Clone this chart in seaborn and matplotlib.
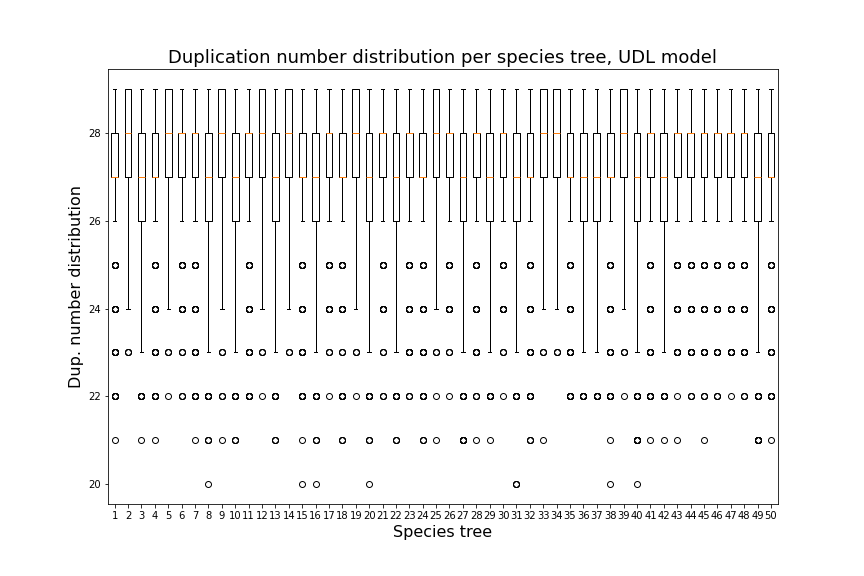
import pandas as pd
import matplotlib
matplotlib.use("Agg")
import matplotlib.pyplot as plt
import seaborn as sns
import numpy as np

FIG_SIZE = (12, 8)

## DATA
trees = list(range(1, 51))

# box shape per tree:
# A: Q1 27, median 27, Q3 28 | B: Q1 27, median 28, Q3 29
# C: Q1 26, median 27, Q3 28 | D: Q1 27, median 28, Q3 28
shapes = list("ABCABDDCBCDBCBACDABCDCDABDCDCDCABBACCABCDCDDDDDDCA")

# value counts making up the box / whiskers of each shape
shape_counts = {
    "A": {26: 20, 27: 160, 28: 100, 29: 40},
    "B": {24: 4, 25: 6, 26: 16, 27: 80, 28: 100, 29: 100},
    "C": {23: 10, 24: 16, 25: 20, 26: 60, 27: 80, 28: 80, 29: 30},
    "D": {26: 20, 27: 100, 28: 160, 29: 40},
}

# outliers per tree (1 = single thin ring, 3-6 = overlapping darker rings)
out25 = [6, 0, 0, 6, 0, 6, 6, 0, 0, 0, 6, 0, 0, 0, 6, 0, 6, 6, 0, 0, 6, 0, 6, 6, 0,
         6, 0, 6, 0, 6, 0, 6, 0, 0, 6, 0, 0, 6, 0, 0, 6, 0, 6, 6, 6, 6, 6, 6, 0, 6]
out24 = list(out25)
out23 = [6, 3, 0, 6, 3, 3, 6, 0, 3, 0, 6, 3, 0, 3, 6, 0, 3, 3, 3, 0, 3, 0, 6, 6, 3,
         3, 0, 6, 0, 3, 0, 6, 3, 3, 6, 0, 0, 6, 3, 0, 6, 0, 6, 6, 6, 6, 6, 6, 0, 6]
out22 = [6, 0, 6, 6, 1, 3, 6, 6, 3, 6, 6, 1, 6, 0, 6, 6, 1, 6, 1, 6, 3, 6, 3, 6, 1,
         1, 6, 3, 6, 1, 6, 6, 0, 0, 6, 6, 6, 6, 1, 6, 6, 6, 1, 3, 3, 3, 1, 3, 6, 6]
out21 = [1, 0, 1, 1, 0, 0, 1, 3, 1, 3, 0, 0, 3, 0, 1, 3, 0, 3, 0, 3, 0, 3, 0, 3, 1,
         0, 6, 1, 1, 0, 0, 3, 1, 0, 0, 0, 0, 1, 0, 6, 1, 1, 1, 0, 1, 0, 0, 0, 6, 1]
out20 = [0, 0, 0, 0, 0, 0, 0, 1, 0, 0, 0, 0, 0, 0, 1, 1, 0, 0, 0, 1, 0, 0, 0, 0, 0,
         0, 0, 0, 0, 0, 3, 0, 0, 0, 0, 0, 0, 1, 0, 1, 0, 0, 0, 0, 0, 0, 0, 0, 0, 0]

outliers = {25: out25, 24: out24, 23: out23, 22: out22, 21: out21, 20: out20}

## BUILD LONG TABLE
rows = []
for i, tree in enumerate(trees):
    counts = dict(shape_counts[shapes[i]])
    for value, arr in outliers.items():
        counts[value] = counts.get(value, 0) + arr[i]
    for value, n in counts.items():
        rows += [(tree, value)] * n
df = pd.DataFrame(rows, columns=["tree", "dups"])

## PLOT
fig, ax = plt.subplots(figsize=FIG_SIZE)
sns.boxplot(
    data=df, x="tree", y="dups", order=trees, ax=ax,
    width=0.5, fill=False, color="black", linewidth=1, whis=1.5,
    flierprops=dict(marker="o", markerfacecolor="none",
                    markeredgecolor="black", markersize=6),
    medianprops=dict(color="#ff7f0e"),
)
ax.set_title("Duplication number distribution per species tree, UDL model", fontsize=18)
ax.set_xlabel("Species tree", fontsize=16)
ax.set_ylabel("Dup. number distribution", fontsize=16)

fig.subplots_adjust(left=0.125, right=0.9, top=0.88, bottom=0.125)
fig.savefig("out.png", dpi=72)
